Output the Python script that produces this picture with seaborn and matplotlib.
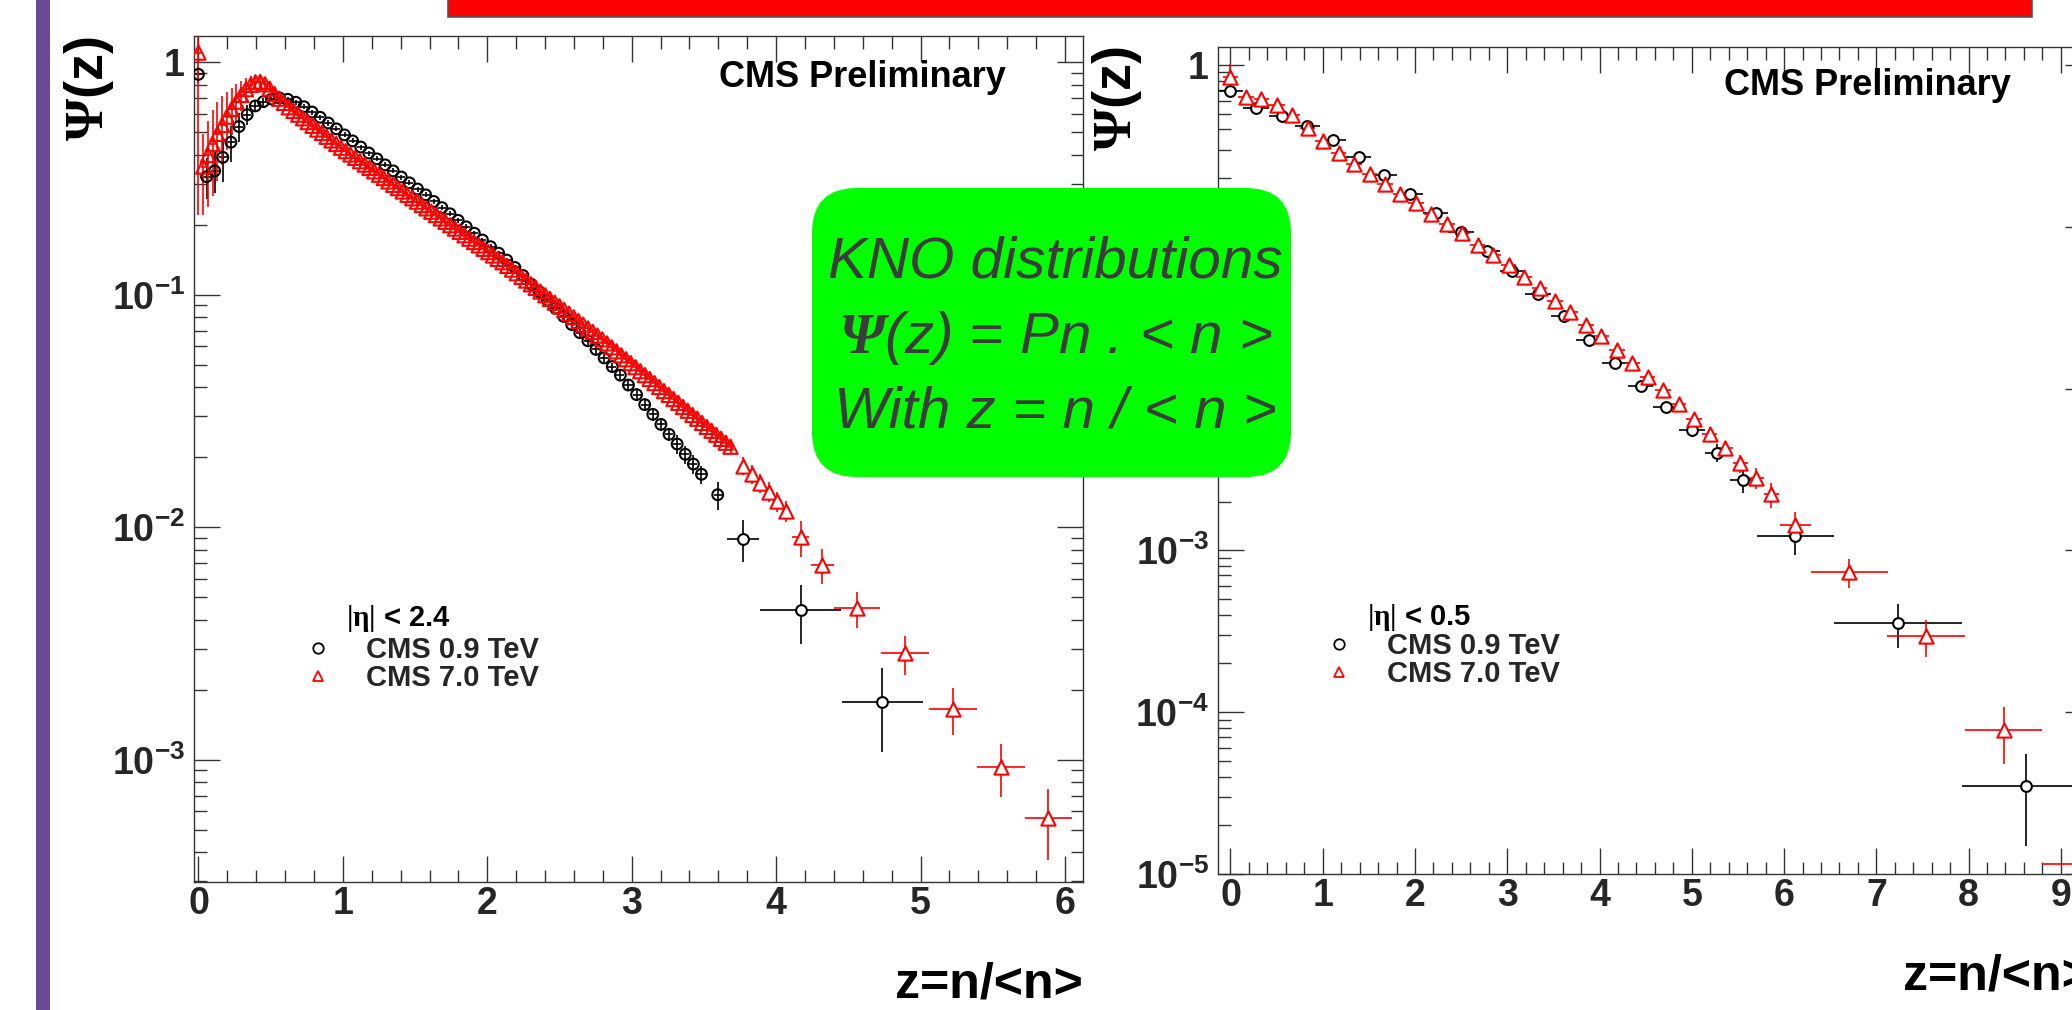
import numpy as np
import pandas as pd
import matplotlib
matplotlib.use("Agg")
import matplotlib.pyplot as plt
import seaborn as sns
from matplotlib.ticker import LogLocator, MultipleLocator, FuncFormatter, NullFormatter
from matplotlib.patches import Rectangle, FancyBboxPatch
from matplotlib.lines import Line2D
from matplotlib.transforms import IdentityTransform

# ------------------------------------------------------------------ data
# Left panel: |eta| < 2.4   (z = n / <n>)
mean_n_09_eta24 = 17.8
mean_n_70_eta24 = 30.4
n_09_eta24 = list(range(0, 63)) + [64]
psi_09_eta24 = [0.887, 0.322, 0.341, 0.390, 0.453, 0.529, 0.595, 0.649, 0.677, 0.695,
                0.702, 0.693, 0.673, 0.644, 0.611, 0.580, 0.548, 0.517, 0.487, 0.459,
                0.432, 0.407, 0.384, 0.362, 0.341, 0.321, 0.303, 0.285, 0.269, 0.252,
                0.237, 0.223, 0.209, 0.196, 0.184, 0.172, 0.161, 0.151, 0.141, 0.131,
                0.121, 0.111, 0.103, 0.0948, 0.0875, 0.0807, 0.0745, 0.0687, 0.0634, 0.0582,
                0.0535, 0.0491, 0.0451, 0.0409, 0.0372, 0.0337, 0.0306, 0.0277, 0.0251, 0.0228,
                0.0206, 0.0187, 0.0169, 0.0138]
relerr_09_eta24 = ([0.08, 0.20, 0.20, 0.22, 0.18, 0.14, 0.10, 0.06, 0.04] + [0.025] * 36
                   + [0.04] * 7 + [0.06] * 7 + [0.09] * 4 + [0.14])
z_09_eta24_wide = [3.773, 4.17, 4.735]
psi_09_eta24_wide = [0.0089, 0.0044, 0.00178]
zerr_09_eta24_wide = [0.11, 0.28, 0.28]
err_09_eta24_wide = [0.0018, 0.00124, 0.0007]

n_70_eta24 = list(range(0, 113))
psi_70_eta24 = [1.10, 0.356, 0.399, 0.445, 0.492, 0.537, 0.584, 0.630, 0.677, 0.723,
                0.766, 0.799, 0.820, 0.823, 0.804, 0.770, 0.730, 0.697, 0.668, 0.640,
                0.617, 0.595, 0.574, 0.553, 0.533, 0.514, 0.496, 0.478, 0.461, 0.445,
                0.429, 0.4147, 0.4011, 0.3879, 0.3752, 0.3629, 0.3510, 0.3395, 0.3284, 0.3176,
                0.3072, 0.2971, 0.2874, 0.2780, 0.2689, 0.2600, 0.2515, 0.2432, 0.2353, 0.2276,
                0.2201, 0.2129, 0.2059, 0.1991, 0.1926, 0.1863, 0.1802, 0.1743, 0.1686, 0.1631,
                0.1577, 0.1525, 0.1475, 0.1427, 0.1380, 0.1331, 0.1283, 0.1237, 0.1193, 0.1151,
                0.1109, 0.1070, 0.1032, 0.0995, 0.0959, 0.0925, 0.0892, 0.0860, 0.0829, 0.0800,
                0.0771, 0.0744, 0.0717, 0.0692, 0.0667, 0.0643, 0.0618, 0.0594, 0.0571, 0.0549,
                0.0528, 0.0508, 0.0488, 0.0469, 0.0451, 0.0434, 0.0417, 0.0401, 0.0385, 0.0371,
                0.0356, 0.0343, 0.0329, 0.0317, 0.0304, 0.0293, 0.0281, 0.0270, 0.0260, 0.0250,
                0.0240, 0.0231, 0.0222]
relerr_70_eta24 = ([0.80, 0.38, 0.40, 0.40, 0.37, 0.33, 0.28, 0.23, 0.19, 0.15, 0.12, 0.09,
                    0.07, 0.05, 0.04] + [0.03] * 71 + [0.04] * 14 + [0.06] * 13)
z_70_eta24_wide = [3.773, 3.832, 3.891, 3.950, 4.009, 4.068, 4.17, 4.32, 4.562, 4.893,
                   5.223, 5.555, 5.885]
psi_70_eta24_wide = [0.0184, 0.0169, 0.0155, 0.0142, 0.01294, 0.01175, 0.00906, 0.00689,
                     0.00449, 0.00287, 0.001655, 0.000933, 0.00056]
zerr_70_eta24_wide = [0.03] * 6 + [0.06, 0.08, 0.16, 0.165, 0.165, 0.165, 0.165]
err_70_eta24_wide = [0.0017, 0.0016, 0.0015, 0.0014, 0.0013, 0.0012, 0.0016, 0.0012,
                     0.0008, 0.00055, 0.00038, 0.00024, 0.00019]

# Right panel: |eta| < 0.5
mean_n_09_eta05 = 3.6
n_09_eta05 = list(range(0, 21))
psi_09_eta05 = [0.691, 0.541, 0.485, 0.420, 0.344, 0.2716, 0.2094, 0.1591, 0.1215, 0.0927,
                0.0704, 0.0535, 0.0386, 0.0280, 0.01987, 0.01429, 0.01042, 0.00769, 0.00558,
                0.00402, 0.00272]
relerr_09_eta05 = [0.05] + [0.03] * 10 + [0.04] * 3 + [0.06] * 3 + [0.08, 0.10, 0.13, 0.17]
z_09_eta05_wide = [6.122, 7.233, 8.626]
psi_09_eta05_wide = [0.00122, 0.000356, 3.49e-5]
zerr_09_eta05_wide = [0.415, 0.695, 0.695]
err_09_eta05_wide = [0.00028, 0.000107, 2.0e-5]

mean_n_70_eta05 = 5.97
n_70_eta05 = list(range(0, 36))
psi_70_eta05 = [0.839, 0.637, 0.614, 0.566, 0.491, 0.407, 0.341, 0.285, 0.245, 0.2125,
                0.1834, 0.160, 0.140, 0.1202, 0.104, 0.0914, 0.0774, 0.0672, 0.0577, 0.0489,
                0.0418, 0.0346, 0.0296, 0.0248, 0.0210, 0.0173, 0.01429, 0.01184, 0.00977,
                0.00797, 0.0065, 0.00525, 0.00428, 0.00345, 0.00281, 0.00222]
relerr_70_eta05 = ([0.21] + [0.03] * 19 + [0.05] * 5 + [0.06] * 5
                   + [0.09, 0.10, 0.11, 0.13, 0.15, 0.18])
z_70_eta05_wide = [6.122, 6.708, 7.54, 8.38, 9.22]
psi_70_eta05_wide = [0.00143, 0.000733, 0.000294, 7.78e-5, 1.15e-5]
zerr_70_eta05_wide = [0.165, 0.415, 0.42, 0.42, 0.42]
err_70_eta05_wide = [0.0003, 0.00015, 7.5e-5, 3.0e-5, 6e-6]

x_ticks_left = [0, 1, 2, 3, 4, 5, 6]
x_ticks_right = [0, 1, 2, 3, 4, 5, 6, 7, 8, 9]
legend_labels = ["CMS 0.9 TeV", "CMS 7.0 TeV"]

# ------------------------------------------------------------------ style
sns.set_theme(style="ticks")
plt.rcParams["font.family"] = ["Liberation Sans", "DejaVu Sans"]
plt.rcParams["font.weight"] = "bold"
plt.rcParams["mathtext.fontset"] = "custom"
plt.rcParams["mathtext.rm"] = "Liberation Serif"
plt.rcParams["mathtext.bf"] = "Liberation Sans:bold"
plt.rcParams["mathtext.sf"] = "Liberation Serif:bold"
plt.rcParams["mathtext.cal"] = "Liberation Serif:italic"
plt.rcParams["mathtext.it"] = "Liberation Sans:italic"

W, H = 2072, 1010
fig = plt.figure(figsize=(W / 100, H / 100), dpi=100)
fig.patch.set_facecolor("white")

ax1 = fig.add_axes([194 / W, (H - 882) / H, 889 / W, 846 / H])
ax2 = fig.add_axes([1218.3 / W, (H - 874) / H, 873 / W, 827.3 / H])
for ax in (ax1, ax2):
    ax.set_yscale("log")

CIRC_S = 60
TRI_S = 105


def draw_series(ax, z, psi, zerr, perr, color, marker, size, face):
    ax.errorbar(z, psi, xerr=zerr, yerr=perr, fmt="none", ecolor=color,
                elinewidth=1.2, capsize=0, zorder=2)
    df = pd.DataFrame({"z": z, "psi": psi})
    sns.scatterplot(data=df, x="z", y="psi", ax=ax, marker=marker, s=size,
                    color=color, linewidth=1.5, zorder=3, legend=False)
    coll = ax.collections[-1]
    coll.set_facecolor(face)
    coll.set_edgecolor(color)


def dense(n_list, mean_n, psi, rel):
    z = np.array(n_list) / mean_n
    p = np.array(psi)
    return z, p, np.full(len(z), 0.5 / mean_n), p * np.array(rel)


# left panel
z, p, ze, pe = dense(n_09_eta24, mean_n_09_eta24, psi_09_eta24, relerr_09_eta24)
draw_series(ax1, z, p, ze, pe, "black", "o", CIRC_S, "none")
draw_series(ax1, z_09_eta24_wide, psi_09_eta24_wide, zerr_09_eta24_wide,
            err_09_eta24_wide, "black", "o", CIRC_S, "white")
z, p, ze, pe = dense(n_70_eta24, mean_n_70_eta24, psi_70_eta24, relerr_70_eta24)
draw_series(ax1, z, p, ze, pe, "red", "^", TRI_S, "none")
draw_series(ax1, z_70_eta24_wide, psi_70_eta24_wide, zerr_70_eta24_wide,
            err_70_eta24_wide, "red", "^", TRI_S, "white")

# right panel
z, p, ze, pe = dense(n_09_eta05, mean_n_09_eta05, psi_09_eta05, relerr_09_eta05)
draw_series(ax2, z, p, ze, pe, "black", "o", CIRC_S, "white")
draw_series(ax2, z_09_eta05_wide, psi_09_eta05_wide, zerr_09_eta05_wide,
            err_09_eta05_wide, "black", "o", CIRC_S, "white")
z, p, ze, pe = dense(n_70_eta05, mean_n_70_eta05, psi_70_eta05, relerr_70_eta05)
draw_series(ax2, z, p, ze, pe, "red", "^", TRI_S, "white")
draw_series(ax2, z_70_eta05_wide, psi_70_eta05_wide, zerr_70_eta05_wide,
            err_70_eta05_wide, "red", "^", TRI_S, "white")


def make_log_fmt(hidden):
    def log_fmt(v, pos):
        e = int(round(np.log10(v)))
        if e in hidden:
            return ""  # these labels sit under the green box in the reference
        if e == 0:
            return r"$\mathbf{1}$"
        return r"$\mathbf{10^{%d}}$" % e
    return log_fmt


ax1.set_xlim(-0.031, 6.125)
ax1.set_ylim(2.98e-4, 1.297)
ax2.set_xlim(-0.132, 9.33)
ax2.set_ylim(0.999e-5, 1.297)
ax1.set_xticks(x_ticks_left)
ax2.set_xticks(x_ticks_right)

for ax, hidden, ylab_x, xlab_y, eta_txt, leg_xy, title_xy, cms_xy in (
        (ax1, (), -0.118, -0.1371, r"$\mathrm{|\eta|}$ < 2.4", (0.1232, 0.2908), (0.171, 0.3026), (0.9134, 0.9397)),
        (ax2, (-1, -2), -0.1155, -0.1402, r"$\mathrm{|\eta|}$ < 0.5", (0.1217, 0.2925), (0.1703, 0.301), (0.908, 0.9416))):
    ax.xaxis.set_minor_locator(MultipleLocator(0.2))
    ax.yaxis.set_major_locator(LogLocator(base=10, numticks=15))
    ax.yaxis.set_minor_locator(LogLocator(base=10, subs=np.arange(2, 10), numticks=40))
    ax.yaxis.set_major_formatter(FuncFormatter(make_log_fmt(hidden)))
    ax.yaxis.set_minor_formatter(NullFormatter())
    ax.tick_params(which="both", direction="in", top=True, right=True, bottom=True, left=True,
                   color="#333333", width=1.0)
    ax.tick_params(which="major", length=18.5)
    ax.tick_params(which="minor", length=9)
    ax.tick_params(axis="x", which="major", labelsize=27, pad=3)
    ax.tick_params(axis="y", which="major", labelsize=27, pad=6.5)
    for sp in ax.spines.values():
        sp.set_color("#333333")
        sp.set_linewidth(1.0)
    ax.grid(False)
    ax.set_facecolor("white")

    ax.set_xlabel("z=n/<n>", fontsize=36, fontweight="bold", loc="right", color="black")
    ax.xaxis.label.set_verticalalignment("baseline")
    ax.xaxis.set_label_coords(1.0, xlab_y)
    ax.set_ylabel(r"$\mathsf{\Psi}$(z)", fontsize=39, fontweight="bold", color="black")
    ax.yaxis.label.set_rotation_mode("default")
    ax.yaxis.label.set_horizontalalignment("center")
    ax.yaxis.label.set_verticalalignment("top")
    ax.yaxis.set_label_coords(ylab_x, 1.0)

    ax.text(cms_xy[0], cms_xy[1], "CMS Preliminary", transform=ax.transAxes,
            ha="right", va="baseline", fontsize=26, fontweight="bold", color="black")

    h1 = Line2D([], [], ls="none", marker="o", mfc="none", mec="black", mew=1.3, ms=7.5)
    h2 = Line2D([], [], ls="none", marker="^", mfc="none", mec="red", mew=1.3, ms=7.5)
    ax.legend([h1, h2], legend_labels, loc="upper left", bbox_to_anchor=leg_xy,
              frameon=False, borderpad=0, borderaxespad=0, handlelength=1.0,
              handletextpad=1.155, labelspacing=0.0,
              prop={"family": "Liberation Sans", "weight": "bold", "size": 21})
    ax.text(title_xy[0], title_xy[1], eta_txt, transform=ax.transAxes, ha="left",
            va="baseline", fontsize=21, fontweight="bold", color="black")

# decorations (slide background)
idt = IdentityTransform()
fig.add_artist(Rectangle((36, 0), 14, H, transform=idt, facecolor="#6a4a94",
                         edgecolor="none", zorder=1))
fig.add_artist(Rectangle((448, H - 17), 1584, 40, transform=idt, facecolor="#ff0000",
                         edgecolor="#555555", linewidth=1.2, zorder=1))
fig.add_artist(FancyBboxPatch((812, H - 477), 479, 289,
                              boxstyle="round,pad=0,rounding_size=45", transform=idt,
                              facecolor="#00ff00", edgecolor="none", zorder=1))
box_lines = ["KNO distributions", r"$\mathcal{\Psi}$(z) = Pn . < n >", "With z = n / < n >"]
box_baselines = [278, 353, 428]
for txt, base in zip(box_lines, box_baselines):
    fig.text(1055 / W, (H - base) / H, txt, ha="center", va="baseline", fontsize=42,
             fontstyle="italic", fontweight="normal", color="#3c3c3c",
             family="Liberation Sans", zorder=4)

fig.savefig("out.png", dpi=100, facecolor="white")
